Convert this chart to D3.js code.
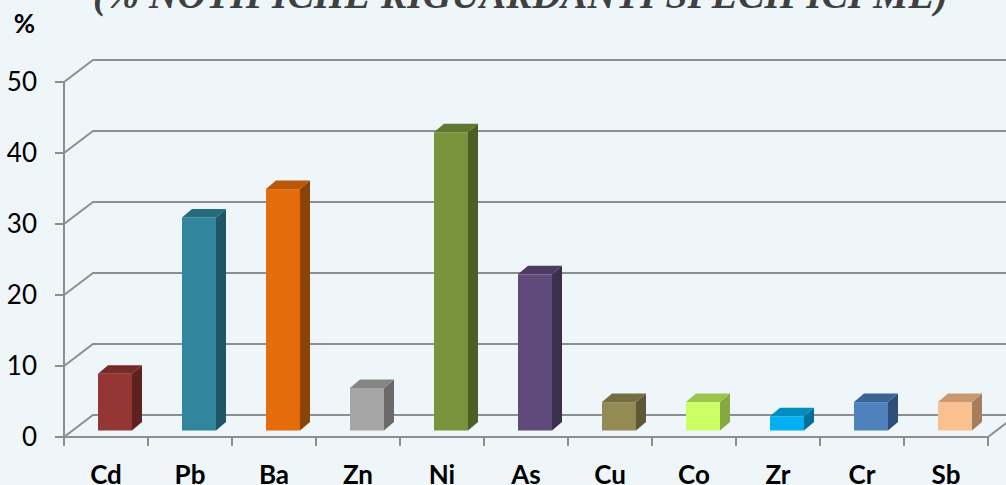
<!DOCTYPE html>
<html><head><meta charset="utf-8">
<script src="https://cdn.jsdelivr.net/npm/d3@7"></script>
<style>html,body{margin:0;padding:0;background:#EEF6FA;}svg{display:block;}</style>
</head><body>
<svg id="chart" width="1006" height="485"></svg>
<script>
const categories = ["Cd","Pb","Ba","Zn","Ni","As","Cu","Co","Zr","Cr","Sb"];
const values = [8, 30, 34, 6, 42, 22, 4, 4, 2, 4, 4];
const yTicks = [0, 10, 20, 30, 40, 50];
const frontColors = ["#943634","#31859C","#E46C0A","#A6A6A6","#77933C","#604A7B","#948A54","#CCFF66","#00B0F0","#4F81BD","#FAC090"];
const topColors   = ["#772B29","#256A7D","#BA5708","#858585","#5F7830","#4C3B62","#766E43","#9DC44C","#008DC0","#3B6393","#C8996F"];
const sideColors  = ["#5F2221","#1F5564","#8C4406","#6A6A6A","#4B5F26","#3C2F4E","#5E5836","#86A83F","#00719A","#2F4F78","#A57E5D"];
const titleText = "(% NOTIFICHE RIGUARDANTI SPECIFICI ME)";

const svg = d3.select("#chart");
const W = 1006, H = 485;
svg.append("rect").attr("width", W).attr("height", H).attr("fill", "#EEF6FA");

const x0 = 64, x1 = 988;
const x = d3.scaleBand().domain(categories).range([x0, x1]).padding(0);
const y = d3.scaleLinear().domain([0, 50]).range([437, 82]);

const DX = 29, DY = -22;        // wall depth
const offX = 9, offY = -6.5;    // bar front offset
const bDX = 10, bDY = -8.5;     // bar depth
const gridColor = "#8E8E8E";

// back wall gridlines
svg.append("g").selectAll("path").data(yTicks).join("path")
  .attr("d", v => `M${x0},${y(v)} L${x0+DX},${y(v)+DY} L${W},${y(v)+DY}`)
  .attr("fill", "none").attr("stroke", gridColor).attr("stroke-width", 2);

// floor front edge + right edge
svg.append("path")
  .attr("d", `M${x0},${y(0)} L${x1},${y(0)} L${x1+DX},${y(0)+DY}`)
  .attr("fill", "none").attr("stroke", gridColor).attr("stroke-width", 2);

// x ticks
const xTickPos = categories.map(c => x(c)).concat([x1]);
svg.append("g").selectAll("line").data(xTickPos).join("line")
  .attr("x1", d => d).attr("x2", d => d)
  .attr("y1", y(0)).attr("y2", y(0) + 9)
  .attr("stroke", gridColor).attr("stroke-width", 2);

// y axis line + ticks
svg.append("line").attr("x1", x0).attr("x2", x0).attr("y1", y(50)).attr("y2", y(0))
  .attr("stroke", gridColor).attr("stroke-width", 2);
svg.append("g").selectAll("line").data(yTicks).join("line")
  .attr("x1", x0 - 9).attr("x2", x0).attr("y1", d => y(d)).attr("y2", d => y(d))
  .attr("stroke", gridColor).attr("stroke-width", 2);

// bars
const bw = 34;
const bars = svg.append("g").selectAll("g").data(categories).join("g");
bars.each(function(c, i) {
  const g = d3.select(this);
  const xl = x(c) + x.bandwidth()/2 - bw/2 + offX;
  const xr = xl + bw;
  const yt = y(values[i]) + offY;
  const yb = y(0) + offY;
  g.append("rect").attr("x", xl).attr("y", yt).attr("width", bw).attr("height", yb - yt)
    .attr("fill", frontColors[i]);
  g.append("path")
    .attr("d", `M${xr},${yt} L${xr+bDX},${yt+bDY} L${xr+bDX},${yb+bDY} L${xr},${yb} Z`)
    .attr("fill", sideColors[i]);
  g.append("path")
    .attr("d", `M${xl},${yt} L${xl+bDX},${yt+bDY} L${xr+bDX},${yt+bDY} L${xr},${yt} Z`)
    .attr("fill", topColors[i]);
});

// y labels
svg.append("g").selectAll("text").data(yTicks).join("text")
  .attr("x", 37).attr("y", d => y(d)).attr("dy", "0.36em")
  .attr("text-anchor", "end")
  .attr("font-family", "Lato, 'Open Sans', sans-serif").attr("font-size", 26)
  .attr("fill", "#000").text(d => d);

// x labels
svg.append("g").selectAll("text").data(categories).join("text")
  .attr("x", c => x(c) + x.bandwidth()/2).attr("y", 484)
  .attr("text-anchor", "middle")
  .attr("font-family", "Lato, 'Open Sans', sans-serif").attr("font-weight", "bold").attr("font-size", 26)
  .attr("fill", "#000").text(c => c);

// % label
svg.append("text").attr("x", 24.5).attr("y", 33).attr("text-anchor", "middle")
  .attr("font-family", "Lato, 'Open Sans', sans-serif").attr("font-weight", "bold").attr("font-size", 26)
  .attr("fill", "#000").text("%");

// title
svg.append("text").attr("x", 93).attr("y", 8)
  .attr("font-family", "'Liberation Serif', 'Times New Roman', serif")
  .attr("font-weight", "bold").attr("font-style", "italic").attr("font-size", 40)
  .attr("fill", "#404040")
  .attr("textLength", 855).attr("lengthAdjust", "spacingAndGlyphs")
  .text(titleText);
</script>
</body></html>
